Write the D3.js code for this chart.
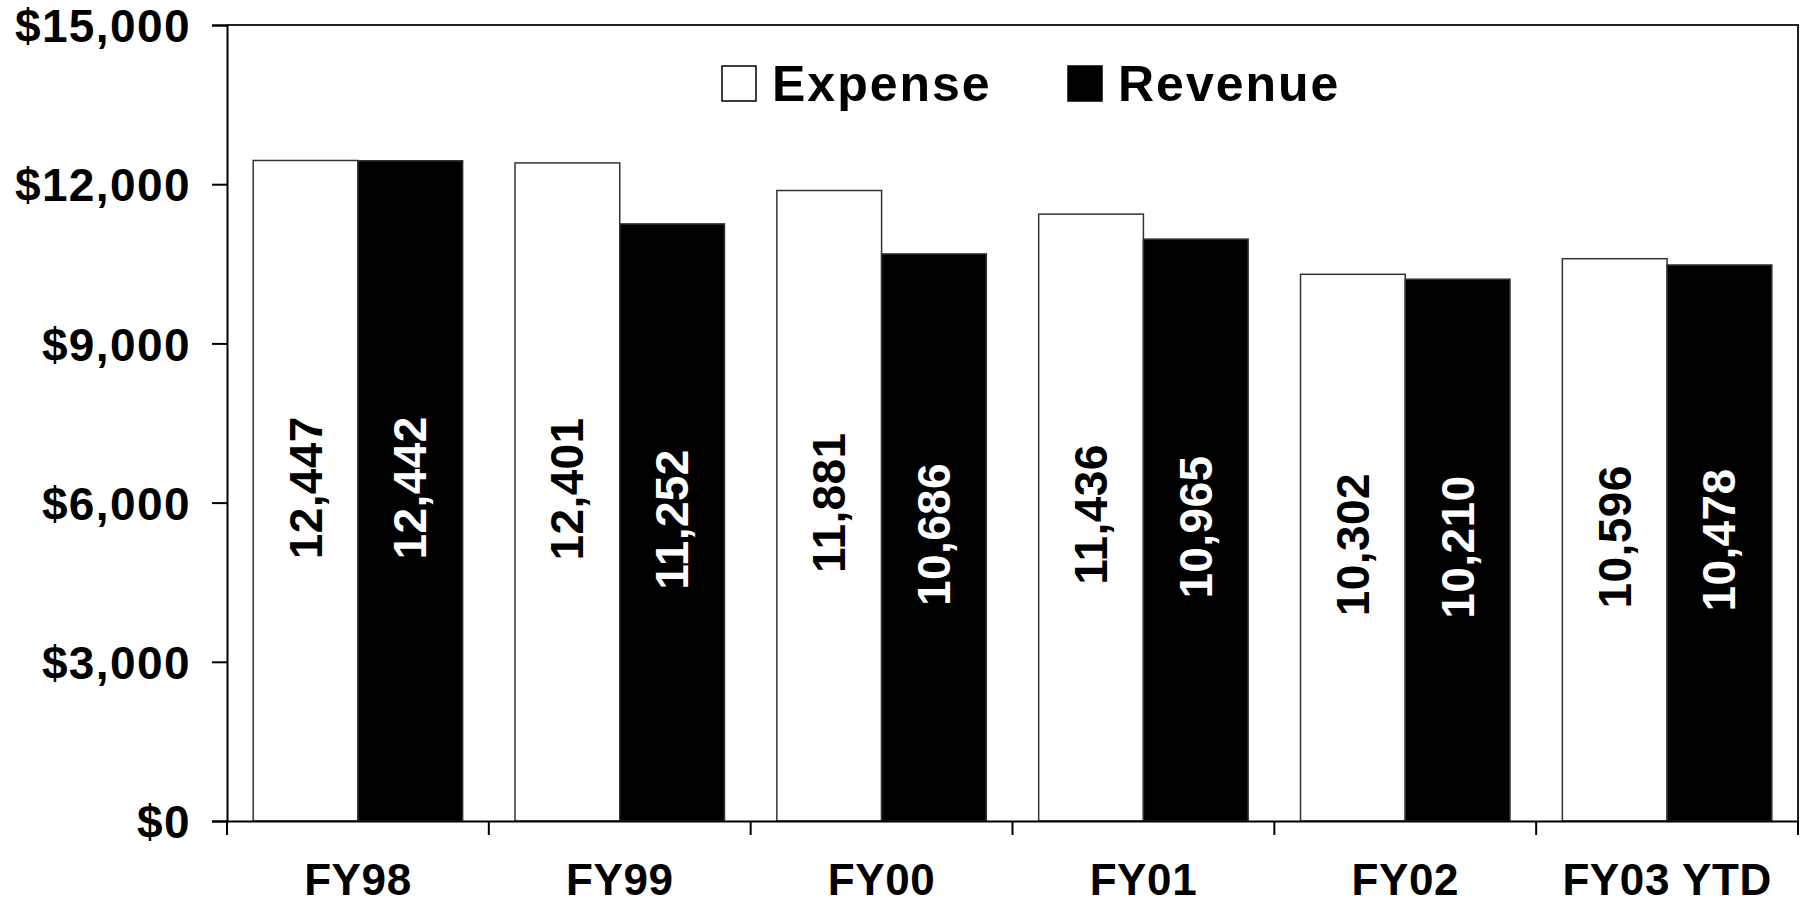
<!DOCTYPE html>
<html>
<head>
<meta charset="utf-8">
<script src="https://cdn.jsdelivr.net/npm/d3@7"></script>
<style>
	html, body { margin: 0; padding: 0; background: #fff; }
	svg { display: block; }
	text { font-family: "Liberation Sans", Arial, sans-serif; }
</style>
</head>
<body>
<div id="chart"></div>
<script>
const categories = ["FY98", "FY99", "FY00", "FY01", "FY02", "FY03 YTD"];
const seriesNames = ["Expense", "Revenue"];
const expense = [12447, 12401, 11881, 11436, 10302, 10596];
const revenue = [12442, 11252, 10686, 10965, 10210, 10478];
const yTicks = [0, 3000, 6000, 9000, 12000, 15000];

const w = 1803;
const h = 906;
const plotL = 227, plotR = 1798, plotT = 25, plotB = 821;

const data = categories.map((c, i) => ({ cat: c, values: [
	{ key: "Expense", v: expense[i] },
	{ key: "Revenue", v: revenue[i] }
]}));

const svg = d3.select("#chart")
	.append("svg")
	.attr("width", w)
	.attr("height", h);

// Scales
const x0 = d3.scaleBand()
	.domain(categories)
	.range([plotL, plotR])
	.padding(0);

const bw = x0.bandwidth();
const x1 = d3.scaleBand()
	.domain(seriesNames)
	.range([bw * 0.1, bw * 0.9])
	.padding(0);

const yScale = d3.scaleLinear()
	.domain([0, 15000])
	.range([plotB, plotT]);

const fill = { Expense: "#fff", Revenue: "#000" };
const labelColor = { Expense: "#000", Revenue: "#fff" };

// plot frame (top and right)
svg.append("path")
	.attr("d", `M${plotL},${plotT}H${plotR}V${plotB}`)
	.attr("fill", "none")
	.attr("stroke", "#222")
	.attr("stroke-width", 2);

// Bars
const groups = svg.selectAll("g.cat")
	.data(data)
	.enter()
	.append("g")
	.attr("class", "cat")
	.attr("transform", d => `translate(${x0(d.cat)},0)`);

groups.selectAll("rect")
	.data(d => d.values)
	.enter()
	.append("rect")
	.attr("x", d => x1(d.key))
	.attr("y", d => yScale(d.v))
	.attr("width", x1.bandwidth())
	.attr("height", d => plotB - yScale(d.v))
	.attr("fill", d => fill[d.key])
	.attr("stroke", "#333")
	.attr("stroke-width", 1.5);

groups.selectAll("text")
	.data(d => d.values)
	.enter()
	.append("text")
	.attr("transform", d => `translate(${x1(d.key) + x1.bandwidth() / 2}, ${(yScale(d.v) + plotB) / 2 - 3}) rotate(-90)`)
	.attr("text-anchor", "middle")
	.attr("dominant-baseline", "central")
	.attr("fill", d => labelColor[d.key])
	.style("font-size", "46px")
	.style("font-weight", "bold")
	.style("letter-spacing", "0.4px")
	.text(d => d3.format(",")(d.v));

// Axes
const yAxis = d3.axisLeft(yScale)
	.tickValues(yTicks)
	.tickSize(15)
	.tickPadding(21)
	.tickFormat(d => "$" + d3.format(",")(d));

svg.append("g")
	.attr("transform", `translate(${plotL},0)`)
	.call(yAxis)
	.call(g => g.select(".domain").attr("stroke", "#000").attr("stroke-width", 2))
	.call(g => g.selectAll(".tick line").attr("stroke", "#000").attr("stroke-width", 2))
	.call(g => g.selectAll("text")
		.attr("fill", "#000")
		.attr("y", 2)
		.style("font-size", "46px")
		.style("font-weight", "bold")
		.style("letter-spacing", "1.4px")
		.style("font-family", "'Liberation Sans', Arial, sans-serif"));

const xAxis = d3.axisBottom(x0)
	.tickSize(0)
	.tickPadding(43);

svg.append("g")
	.attr("transform", `translate(0,${plotB})`)
	.call(xAxis)
	.call(g => g.select(".domain").attr("stroke", "#000").attr("stroke-width", 2))
	.call(g => g.selectAll("text")
		.attr("fill", "#000")
		.style("font-size", "44px")
		.style("font-weight", "bold")
		.style("letter-spacing", "0.6px")
		.style("font-family", "'Liberation Sans', Arial, sans-serif"));

// category boundary ticks
const bounds = categories.map(c => x0(c)).concat([plotR]);
svg.append("g")
	.selectAll("line")
	.data(bounds)
	.enter()
	.append("line")
	.attr("x1", d => d)
	.attr("x2", d => d)
	.attr("y1", plotB)
	.attr("y2", plotB + 14)
	.attr("stroke", "#000")
	.attr("stroke-width", 2);

// Legend
const legendX = [722, 1068];
const legend = svg.append("g");
seriesNames.forEach((s, i) => {
	legend.append("rect")
		.attr("x", legendX[i])
		.attr("y", 66)
		.attr("width", 34)
		.attr("height", 35)
		.attr("fill", fill[s])
		.attr("stroke", "#000")
		.attr("stroke-width", 1.5);
	legend.append("text")
		.attr("x", legendX[i] + 50)
		.attr("y", 101)
		.style("font-size", "50px")
		.style("font-weight", "bold")
		.style("letter-spacing", "2px")
		.text(s);
});
</script>
</body>
</html>
